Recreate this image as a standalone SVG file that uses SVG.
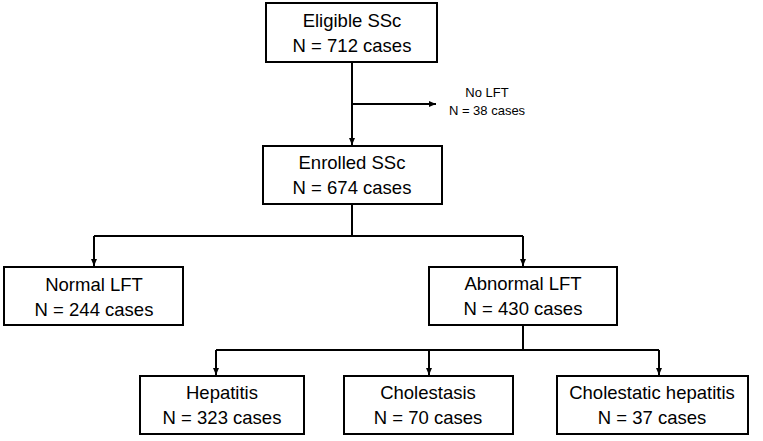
<svg xmlns="http://www.w3.org/2000/svg" width="763" height="441" viewBox="0 0 763 441">
<style>
.box{fill:#fff;stroke:#000;stroke-width:2}
.t{font-family:"Liberation Sans",Arial,sans-serif;font-size:18.5px;fill:#000;text-anchor:middle}
.s{font-family:"Liberation Sans",Arial,sans-serif;font-size:13px;fill:#000;text-anchor:middle}
.c{fill:none;stroke:#000;stroke-width:2}
</style>
<defs>
<marker id="ah" markerWidth="8" markerHeight="8" refX="7" refY="4" orient="auto" markerUnits="userSpaceOnUse">
<path d="M0,1 L7,4 L0,7 Z" fill="#000"/>
</marker>
</defs>
<g id="connectors">
<path class="c" d="M352,62 V145" marker-end="url(#ah)"/>
<path class="c" d="M352,104 H436" marker-end="url(#ah)"/>
<path class="c" d="M352,204 V236"/>
<path class="c" d="M94,236 H523"/>
<path class="c" d="M94,236 V266" marker-end="url(#ah)"/>
<path class="c" d="M523,236 V266" marker-end="url(#ah)"/>
<path class="c" d="M523,325 V350"/>
<path class="c" d="M216,350 H659"/>
<path class="c" d="M216,350 V375" marker-end="url(#ah)"/>
<path class="c" d="M429,350 V375" marker-end="url(#ah)"/>
<path class="c" d="M659,350 V375" marker-end="url(#ah)"/>
</g>
<g id="eligible">
<rect class="box" x="266" y="3" width="171" height="59"/>
<text class="t" x="352" y="27">Eligible SSc</text>
<text class="t" x="352" y="52">N = 712 cases</text>
</g>
<g id="nolft">
<text class="s" x="487" y="97">No LFT</text>
<text class="s" x="487" y="115">N = 38 cases</text>
</g>
<g id="enrolled">
<rect class="box" x="263" y="146" width="179" height="58"/>
<text class="t" x="352" y="169">Enrolled SSc</text>
<text class="t" x="352" y="194">N = 674 cases</text>
</g>
<g id="normal">
<rect class="box" x="4" y="267" width="179" height="58"/>
<text class="t" x="94" y="291">Normal LFT</text>
<text class="t" x="94" y="316">N = 244 cases</text>
</g>
<g id="abnormal">
<rect class="box" x="429" y="267" width="188" height="58"/>
<text class="t" x="523" y="290">Abnormal LFT</text>
<text class="t" x="523" y="315">N = 430 cases</text>
</g>
<g id="hepatitis">
<rect class="box" x="140" y="376" width="164" height="58"/>
<text class="t" x="222" y="399">Hepatitis</text>
<text class="t" x="222" y="424">N = 323 cases</text>
</g>
<g id="cholestasis">
<rect class="box" x="344" y="376" width="169" height="58"/>
<text class="t" x="428" y="399">Cholestasis</text>
<text class="t" x="428" y="424">N = 70 cases</text>
</g>
<g id="cholhep">
<rect class="box" x="557" y="376" width="191" height="58"/>
<text class="t" x="652" y="399">Cholestatic hepatitis</text>
<text class="t" x="652" y="424">N = 37 cases</text>
</g>
</svg>
